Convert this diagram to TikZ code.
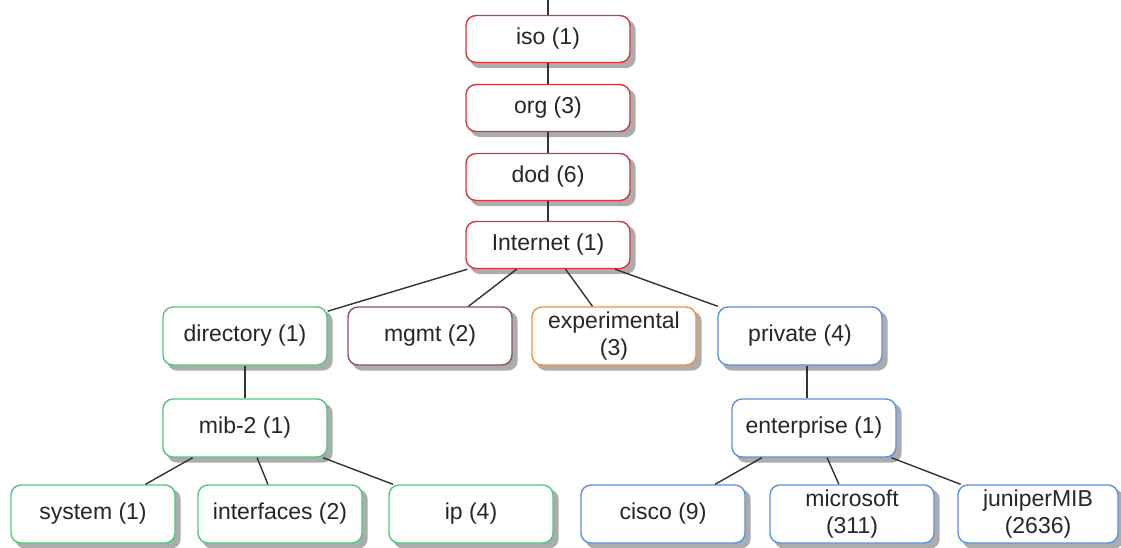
\documentclass[tikz,border=0pt]{standalone}
\usepackage{fontspec}
\setmainfont{Liberation Sans}
\usepackage{xcolor}
\usetikzlibrary{backgrounds}

\definecolor{isored}{RGB}{215,55,60}
\definecolor{mibgreen}{RGB}{80,200,125}
\definecolor{mgmtbrown}{RGB}{145,80,80}
\definecolor{exporange}{RGB}{240,145,65}
\definecolor{privblue}{RGB}{90,145,225}
\definecolor{shade}{RGB}{172,172,172}

\tikzset{
	oid/.style={draw, fill=white, rounded corners=10pt, line width=1.4pt,
		inner sep=0pt, align=center, minimum width=164pt, minimum height=58pt,
		font=\fontsize{23}{27}\selectfont, text=black!85},
	topoid/.style={oid, draw=isored, minimum height=47pt},
	link/.style={draw=black!80, line width=1.4pt},
	boxshade/.style={fill=shade, rounded corners=10pt}
}

\begin{document}
\begin{tikzpicture}[x=1pt, y=-1pt]
	\useasboundingbox (0,0) rectangle (1121,547);
	% top chain
	\coordinate (root) at (548,0);
	\node[topoid] (iso) at (548,39) {iso (1)};
	\node[topoid] (org) at (548,108) {org (3)};
	\node[topoid] (dod) at (548,177) {dod (6)};
	\node[topoid] (internet) at (548,245) {Internet (1)};
	% second level
	\node[oid, draw=mibgreen] (directory) at (245,336) {directory (1)};
	\node[oid, draw=mgmtbrown] (mgmt) at (430,336) {mgmt (2)};
	\node[oid, draw=exporange] (experimental) at (614,336) {experimental\\(3)};
	\node[oid, draw=privblue] (private) at (800,336) {private (4)};
	% third level
	\node[oid, draw=mibgreen] (mib2) at (245,428) {mib-2 (1)};
	\node[oid, draw=privblue] (enterprise) at (814,428) {enterprise (1)};
	% leaves
	\node[oid, draw=mibgreen] (system) at (93,514) {system (1)};
	\node[oid, draw=mibgreen] (interfaces) at (280,514) {interfaces (2)};
	\node[oid, draw=mibgreen] (ip) at (471,514) {ip (4)};
	\node[oid, draw=privblue] (cisco) at (663,514) {cisco (9)};
	\node[oid, draw=privblue] (microsoft) at (852,514) {microsoft\\(311)};
	\node[oid, draw=privblue, minimum width=160pt] (juniper) at (1038,514) {juniperMIB\\(2636)};
	% connectors
	\draw[link] (root) -- (iso);
	\draw[link] (iso) -- (org);
	\draw[link] (org) -- (dod);
	\draw[link] (dod) -- (internet);
	\foreach \kid in {directory, mgmt, experimental, private}
		\draw[link] (internet) -- (\kid);
	\draw[link] (directory) -- (mib2);
	\draw[link] ([xshift=7pt]private.south) -- ([xshift=-7pt]enterprise.north);
	\foreach \kid in {system, interfaces, ip}
		\draw[link] (mib2) -- (\kid);
	\foreach \kid in {cisco, microsoft, juniper}
		\draw[link] (enterprise) -- (\kid);
	% shadows
	\begin{scope}[on background layer]
		\foreach \n in {iso, org, dod, internet, directory, mgmt, experimental, private,
			mib2, enterprise, system, interfaces, ip, cisco, microsoft, juniper}
			\fill[boxshade] ([shift={(5pt,-5pt)}]\n.south west) rectangle ([shift={(5pt,-5pt)}]\n.north east);
	\end{scope}
\end{tikzpicture}
\end{document}
